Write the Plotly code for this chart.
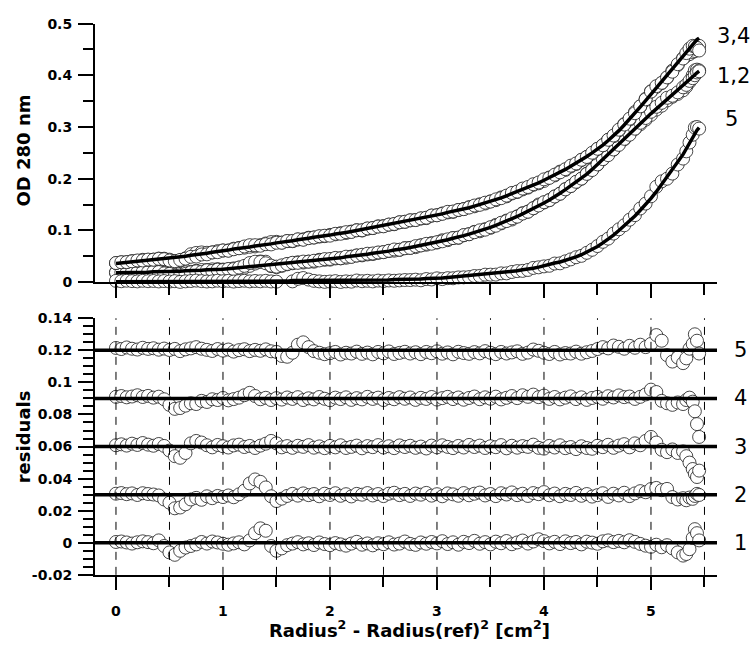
import numpy as np
import plotly.graph_objects as go

# ---------------------------------------------------------------------------
# Data: radial coordinate r^2 - r_ref^2 [cm^2]
# ---------------------------------------------------------------------------
R2 = [
    0.00, 0.05, 0.10, 0.15, 0.20, 0.25, 0.30, 0.35, 0.40, 0.45,
    0.50, 0.55, 0.60, 0.65, 0.70, 0.75, 0.80, 0.85, 0.90, 0.95,
    1.00, 1.05, 1.10, 1.15, 1.20, 1.25, 1.30, 1.35, 1.40, 1.45,
    1.50, 1.55, 1.60, 1.65, 1.70, 1.75, 1.80, 1.85, 1.90, 1.95,
    2.00, 2.05, 2.10, 2.15, 2.20, 2.25, 2.30, 2.35, 2.40, 2.45,
    2.50, 2.55, 2.60, 2.65, 2.70, 2.75, 2.80, 2.85, 2.90, 2.95,
    3.00, 3.05, 3.10, 3.15, 3.20, 3.25, 3.30, 3.35, 3.40, 3.45,
    3.50, 3.55, 3.60, 3.65, 3.70, 3.75, 3.80, 3.85, 3.90, 3.95,
    4.00, 4.05, 4.10, 4.15, 4.20, 4.25, 4.30, 4.35, 4.40, 4.45,
    4.50, 4.55, 4.60, 4.65, 4.70, 4.75, 4.80, 4.85, 4.90, 4.95,
    5.00, 5.05, 5.10, 5.15, 5.20, 5.25, 5.30, 5.33, 5.36, 5.39,
    5.41, 5.43, 5.45,
]

# Fitted OD 280 nm for the three loading concentrations (1,2 / 3,4 / 5)
OD_34 = [
    0.036, 0.037, 0.038, 0.039, 0.040, 0.041, 0.042, 0.043, 0.044, 0.045,
    0.046, 0.047, 0.049, 0.050, 0.052, 0.053, 0.055, 0.056, 0.058, 0.059,
    0.061, 0.062, 0.064, 0.065, 0.067, 0.068, 0.070, 0.071, 0.073, 0.074,
    0.076, 0.077, 0.079, 0.080, 0.082, 0.083, 0.085, 0.087, 0.088, 0.090,
    0.091, 0.093, 0.094, 0.096, 0.098, 0.100, 0.101, 0.103, 0.105, 0.107,
    0.109, 0.111, 0.113, 0.115, 0.117, 0.119, 0.121, 0.123, 0.125, 0.128,
    0.130, 0.132, 0.135, 0.137, 0.139, 0.142, 0.144, 0.147, 0.150, 0.153,
    0.156, 0.159, 0.163, 0.167, 0.171, 0.175, 0.179, 0.183, 0.187, 0.192,
    0.197, 0.202, 0.207, 0.213, 0.218, 0.224, 0.230, 0.236, 0.243, 0.250,
    0.257, 0.265, 0.274, 0.283, 0.293, 0.304, 0.315, 0.327, 0.339, 0.351,
    0.363, 0.375, 0.387, 0.399, 0.411, 0.424, 0.436, 0.444, 0.451, 0.459,
    0.464, 0.469, 0.472,
]
OD_12 = [
    0.018, 0.018, 0.018, 0.019, 0.019, 0.019, 0.019, 0.020, 0.020, 0.020,
    0.021, 0.021, 0.021, 0.022, 0.022, 0.023, 0.023, 0.024, 0.024, 0.025,
    0.025, 0.026, 0.027, 0.028, 0.029, 0.030, 0.030, 0.031, 0.032, 0.033,
    0.034, 0.035, 0.036, 0.037, 0.038, 0.039, 0.040, 0.041, 0.043, 0.044,
    0.045, 0.046, 0.047, 0.049, 0.050, 0.051, 0.053, 0.054, 0.056, 0.057,
    0.059, 0.060, 0.062, 0.063, 0.065, 0.067, 0.069, 0.071, 0.073, 0.075,
    0.077, 0.080, 0.082, 0.085, 0.087, 0.090, 0.093, 0.096, 0.099, 0.102,
    0.106, 0.110, 0.114, 0.118, 0.122, 0.127, 0.132, 0.137, 0.142, 0.148,
    0.153, 0.159, 0.165, 0.172, 0.179, 0.186, 0.193, 0.201, 0.209, 0.218,
    0.228, 0.237, 0.247, 0.256, 0.266, 0.276, 0.286, 0.296, 0.306, 0.316,
    0.326, 0.335, 0.344, 0.353, 0.362, 0.370, 0.379, 0.385, 0.391, 0.397,
    0.401, 0.405, 0.408,
]
OD_5 = [
    0.001, 0.001, 0.001, 0.001, 0.001, 0.001, 0.001, 0.001, 0.001, 0.001,
    0.001, 0.001, 0.001, 0.001, 0.001, 0.001, 0.001, 0.001, 0.002, 0.002,
    0.002, 0.002, 0.002, 0.002, 0.002, 0.002, 0.002, 0.002, 0.002, 0.002,
    0.002, 0.002, 0.002, 0.003, 0.003, 0.003, 0.003, 0.003, 0.003, 0.003,
    0.003, 0.003, 0.003, 0.003, 0.003, 0.004, 0.004, 0.004, 0.004, 0.004,
    0.004, 0.004, 0.005, 0.005, 0.005, 0.006, 0.006, 0.006, 0.007, 0.007,
    0.008, 0.008, 0.009, 0.010, 0.010, 0.011, 0.012, 0.013, 0.014, 0.015,
    0.016, 0.017, 0.018, 0.019, 0.021, 0.022, 0.024, 0.025, 0.027, 0.029,
    0.032, 0.034, 0.037, 0.039, 0.042, 0.046, 0.049, 0.053, 0.058, 0.063,
    0.069, 0.076, 0.083, 0.091, 0.100, 0.109, 0.118, 0.128, 0.139, 0.150,
    0.162, 0.175, 0.189, 0.203, 0.217, 0.232, 0.247, 0.258, 0.269, 0.281,
    0.289, 0.294, 0.299,
]

# Fit residuals of the five scans, in milli-OD
RES_1 = [
    0.5, 0.8, 0.2, -0.5, 0.3, 0.9, 0.4, -0.3, 1.5, -2.0,
    -6.0, -7.5, -5.0, -3.0, -2.0, -1.0, 0.5, -0.5, 0.8, 0.2,
    -0.6, -1.2, -0.4, 0.3, -1.0, 1.5, 6.0, 9.0, 7.5, -2.0,
    -5.0, -3.5, -1.5, -0.5, 0.4, -1.0, -0.3, -1.4, 0.2, -0.8,
    -1.5, -0.2, -1.0, -1.8, -0.5, 0.6, -1.2, -0.4, -1.6, -0.3,
    -0.9, 0.3, -1.1, -0.5, 0.8, -0.7, -1.3, 0.2, -0.6, 0.5,
    -0.4, 1.0, -0.8, 0.3, -1.2, 0.6, -0.2, 1.2, -0.6, 0.4,
    -1.0, 0.7, -0.3, 1.1, -0.9, 0.2, 1.4, -0.5, 0.8, 2.2,
    1.0, -0.4, 0.6, -0.8, 0.9, -0.2, 0.5, -1.0, 0.7, 0.1,
    -0.6, 0.9, 1.5, 0.4, 1.2, 0.3, 1.6, 0.6, -0.7, -1.8,
    -2.5, -1.2, -2.8, -1.5, -3.5, -6.0, -8.0, -7.0, -4.0, 3.0,
    8.5, 6.0, 1.5,
]
RES_2 = [
    0.6, 1.0, 0.3, 0.8, -0.2, 0.9, 0.4, 0.1, -0.5, -3.0,
    -5.0, -8.5, -8.0, -6.0, -3.0, -2.0, -3.2, -1.0, -2.2, -0.8,
    -1.5, -0.5, -1.6, 0.2, 2.5, 7.0, 9.5, 8.0, 4.5, -1.0,
    -4.0, -2.5, -0.8, 0.5, -0.6, 0.8, -0.3, 0.4, -1.0, 0.6,
    -0.2, 0.9, -0.7, 0.3, -1.1, 0.5, 0.0, 1.0, -0.5, 0.4,
    -0.9, 0.6, 1.2, -0.3, 0.5, -0.8, 0.7, 0.0, 1.1, -0.6,
    0.3, -1.0, 0.8, 0.2, -0.7, 1.0, -0.4, 0.6, 1.3, -0.5,
    0.4, -0.9, 0.9, 0.1, 1.4, -0.3, 0.6, -0.8, 1.0, 0.3,
    1.6, -0.4, 0.7, -1.0, 0.5, -0.2, 1.1, -0.7, 0.4, -1.2,
    -0.3, 0.9, -1.4, 0.6, -0.5, 1.2, -0.9, 0.8, 2.2, 1.5,
    3.5, 4.2, 2.8, 3.6, -1.5, -3.0, -2.2, -3.5, -1.8, -2.6,
    -0.8, 0.5, -0.2,
]
RES_3 = [
    0.8, 1.4, 0.6, 1.8, 1.0, 2.2, 1.2, 0.5, 1.6, 0.4,
    -2.5, -6.0, -7.0, -4.0, 2.0, 3.5, 2.5, 0.8, -0.5, 1.0,
    0.2, -0.6, 0.7, 1.2, -0.3, 0.4, -0.9, 0.6, 1.8, 3.5,
    2.0, -0.5, 0.3, -0.8, 0.5, -0.2, 0.9, -0.7, 0.1, -1.0,
    0.4, -0.5, 0.8, -0.9, -0.2, 0.6, -1.1, 0.3, -0.4, 0.9,
    -0.6, 0.2, -1.0, 0.7, -0.3, 0.5, -0.8, 0.0, -1.2, 0.6,
    -0.5, 0.8, -0.2, -1.0, 0.4, -0.6, 1.0, -0.3, 0.6, -0.9,
    0.2, -0.4, 0.9, -1.1, 0.5, -0.7, 0.3, -0.2, 1.2, -0.8,
    -1.3, 0.4, -0.6, 0.8, -1.0, -0.3, -1.6, 0.2, -0.9, -1.4,
    0.5, -0.4, 1.1, -0.8, 0.6, 1.5, -0.5, 2.0, 0.8, 3.5,
    6.0, 2.5, -2.0, -3.5, -1.8, -4.0, -3.0, -6.0, -10.0, -14.0,
    -17.0, -19.0, -15.0,
]
RES_4 = [
    1.0, 1.5, 0.7, 1.2, 2.0, 0.9, 1.6, 0.5, 1.1, -0.5,
    -4.0, -6.5, -6.0, -4.5, -3.0, -3.5, -1.5, -2.2, -0.5, -1.0,
    0.3, -1.2, -0.4, 0.5, 2.0, 3.5, 1.5, -0.5, 0.4, -1.0,
    0.2, -0.7, 0.6, -0.3, 0.8, -1.0, 0.1, -0.6, 0.9, -0.2,
    -1.1, 0.5, -0.4, 0.7, -0.9, 0.2, -0.6, 1.0, -0.3, 0.5,
    -1.0, 0.3, -0.5, 0.8, -0.2, 0.6, -0.9, 0.4, -0.3, 0.9,
    -0.7, 0.2, 1.0, -0.4, 0.6, -0.8, 0.3, 1.2, -0.5, 0.7,
    -0.2, 1.1, -0.6, 0.4, 1.5, 0.2, 2.0, 1.0, 2.4, 0.8,
    1.8, -0.3, 0.9, -0.6, 0.5, 1.3, -0.4, 0.7, -0.9, 0.3,
    1.0, -0.2, 1.4, 0.6, 1.9, 0.8, 1.2, -0.3, 1.0, 2.5,
    5.5, 4.0, -1.5, -3.0, -4.0, -2.5, -3.5, -1.0, 0.5, -2.0,
    -8.0, -16.0, -24.0,
]
RES_5 = [
    1.5, 0.8, 1.8, 1.0, 0.5, 1.6, 0.9, 1.3, 0.4, 1.1,
    0.2, 0.9, -0.5, 0.6, 1.2, 2.0, 1.0, 0.3, -0.4, 0.8,
    -0.2, 0.5, -0.8, 0.1, 0.7, -0.5, 0.3, -0.3, 0.6, -0.6,
    -1.0, -3.5, -4.0, -1.5, 3.5, 5.0, 2.0, -0.5, -1.5, -2.4,
    -1.8, -1.0, -2.6, -1.5, -2.0, -0.8, -2.2, -1.4, -2.5, -1.0,
    -1.9, -0.7, -2.3, -1.6, -0.9, -2.0, -1.2, -2.4, -1.0, -1.8,
    -0.6, -2.1, -1.3, -2.5, -0.9, -1.7, -2.2, -1.1, -1.9, -0.5,
    -1.5, -2.4, -1.0, -2.0, -1.3, -0.6, -2.2, -1.4, 0.5, -0.3,
    -1.5, -2.3, -1.0, -2.6, -1.7, -2.0, -0.8, -2.1, -1.2, -0.4,
    0.8, 2.0, 1.2, 3.0, 2.2, 1.0, 2.8, 1.6, 3.5, 2.0,
    4.0, 9.5, 6.0, -3.0, -7.0, -4.5, -8.0, -5.0, 1.0, 4.0,
    10.0, 6.0, -2.0,
]

SCAN_LABELS = ["1", "2", "3", "4", "5"]
SCAN_GROUP = ["1,2", "1,2", "3,4", "3,4", "5"]
RES_OFFSETS = [0.0, 0.03, 0.06, 0.09, 0.12]   # vertical stacking of residuals
GROUP_LABELS = ["3,4", "1,2", "5"]

Y1_TICKS = [0, 0.1, 0.2, 0.3, 0.4, 0.5]
Y2_TICKS = [-0.02, 0, 0.02, 0.04, 0.06, 0.08, 0.1, 0.12, 0.14]
Y2_TEXT = ["-0.02", "0", "0.02", "0.04", "0.06", "0.08", "0.1", "0.12", "0.14"]
X_TICKS = [0, 1, 2, 3, 4, 5]

# ---------------------------------------------------------------------------
# Layout geometry (pixels in a 751 x 657 page)
# ---------------------------------------------------------------------------
W, H = 751, 657
FONT = "DejaVu Sans"
X_RANGE = [-0.196, 5.617]
X_DOM = [95 / W, 717 / W]
Y1_DOM = [(H - 281) / H, (H - 16) / H]
Y2_DOM = [(H - 581) / H, (H - 318) / H]


def py(pixel_y):
    return (H - pixel_y) / H


fits = {"1,2": np.array(OD_12), "3,4": np.array(OD_34), "5": np.array(OD_5)}
residuals = [np.array(r) / 1000.0 for r in (RES_1, RES_2, RES_3, RES_4, RES_5)]
x = np.array(R2)

marker = dict(symbol="circle", size=13, color="white",
              line=dict(color="#1a1a1a", width=0.8))

fig = go.Figure()

# upper panel: scans (fit + residual) as open circles, fitted curves on top
for k in range(5):
    fig.add_trace(go.Scatter(
        x=x, y=fits[SCAN_GROUP[k]] + residuals[k], mode="markers",
        marker=marker, xaxis="x", yaxis="y", cliponaxis=False,
        name=f"scan {SCAN_LABELS[k]}", showlegend=False, hoverinfo="skip"))
for key in ("1,2", "3,4", "5"):
    fig.add_trace(go.Scatter(
        x=x, y=fits[key], mode="lines", line=dict(color="black", width=3.5),
        xaxis="x", yaxis="y", name=f"fit {key}", showlegend=False))

# lower panel: residuals, stacked by offset
for k in range(5):
    fig.add_trace(go.Scatter(
        x=x, y=RES_OFFSETS[k] + residuals[k], mode="markers",
        marker=marker, xaxis="x2", yaxis="y2", cliponaxis=False,
        name=f"residual {SCAN_LABELS[k]}", showlegend=False))

shapes = []
for off in RES_OFFSETS:
    shapes.append(dict(type="line", xref="x2 domain", yref="y2",
                       x0=0, x1=1, y0=off, y1=off, layer="above",
                       line=dict(color="black", width=3.5)))
for gx in [i * 0.5 for i in range(12)]:
    shapes.append(dict(type="line", xref="x2", yref="y2 domain",
                       x0=gx, x1=gx, y0=0, y1=1, layer="above",
                       line=dict(color="black", width=1, dash="8px,7px")))

annotations = []
# group labels at the ends of the concentration curves
for lab, ypix, xpix in zip(GROUP_LABELS, [29, 70, 114], [733, 733, 731]):
    annotations.append(dict(text=lab, xref="paper", yref="paper",
                            x=xpix / W, y=py(ypix), showarrow=False,
                            xanchor="center", yanchor="middle",
                            font=dict(family=FONT, size=21, color="black")))
# scan numbers next to the residual baselines
for lab, off in zip(SCAN_LABELS, RES_OFFSETS):
    annotations.append(dict(text=lab, xref="paper", yref="y2",
                            x=740 / W, y=off, showarrow=False,
                            xanchor="center", yanchor="middle",
                            font=dict(family=FONT, size=21, color="black")))
# axis titles
title_font = dict(family=FONT, size=18, color="black", weight="bold")
annotations.append(dict(text="OD 280 nm", xref="paper", yref="paper",
                        x=23 / W, y=py(146), textangle=-90, showarrow=False,
                        xanchor="center", yanchor="middle", font=title_font))
annotations.append(dict(text="residuals", xref="paper", yref="paper",
                        x=23 / W, y=py(440), textangle=-90, showarrow=False,
                        xanchor="center", yanchor="middle", font=title_font))
annotations.append(dict(
    text="Radius<sup>2</sup> - Radius(ref)<sup>2</sup> [cm<sup>2</sup>]",
    xref="paper", yref="paper", x=409 / W, y=py(636), showarrow=False,
    xanchor="center", yanchor="middle", font=title_font))

tick_font = dict(family=FONT, size=14, color="black", weight="bold")
common = dict(showline=True, linecolor="black", linewidth=2, mirror=False,
              ticks="outside", tickcolor="black", tickwidth=1.5,
              showgrid=False, zeroline=False, layer="above traces",
              tickfont=tick_font, fixedrange=True)

fig.update_layout(
    width=W, height=H, margin=dict(l=0, r=0, t=0, b=0),
    paper_bgcolor="white", plot_bgcolor="white", showlegend=False,
    xaxis=dict(**common, domain=X_DOM, range=X_RANGE, anchor="y",
               tickmode="array", tickvals=X_TICKS, showticklabels=False,
               ticklen=14,
               minor=dict(tickmode="linear", tick0=0, dtick=0.5, ticklen=11,
                          ticks="outside", tickcolor="black", tickwidth=1.5)),
    yaxis=dict(**common, domain=Y1_DOM, range=[0, 0.5], anchor="x",
               tickmode="array", tickvals=Y1_TICKS,
               ticktext=[f"{v:g}" for v in Y1_TICKS], ticklen=15,
               ticklabelstandoff=3,
               minor=dict(tickmode="linear", tick0=0, dtick=0.05, ticklen=10,
                          ticks="outside", tickcolor="black", tickwidth=1.5)),
    xaxis2=dict(**common, domain=X_DOM, range=X_RANGE, anchor="y2",
                tickmode="array", tickvals=X_TICKS,
                ticktext=[str(v) for v in X_TICKS], ticklen=13,
                ticklabelstandoff=9,
                minor=dict(tickmode="linear", tick0=0, dtick=0.5, ticklen=10,
                           ticks="outside", tickcolor="black", tickwidth=1.5)),
    yaxis2=dict(**common, domain=Y2_DOM, range=[-0.02, 0.14], anchor="x2",
                tickmode="array", tickvals=Y2_TICKS, ticktext=Y2_TEXT,
                ticklen=15, ticklabelstandoff=3,
                minor=dict(tickmode="linear", tick0=0, dtick=0.005, ticklen=10,
                           ticks="outside", tickcolor="black", tickwidth=1.5)),
    shapes=shapes,
    annotations=annotations,
)

fig.write_html("out.html")
